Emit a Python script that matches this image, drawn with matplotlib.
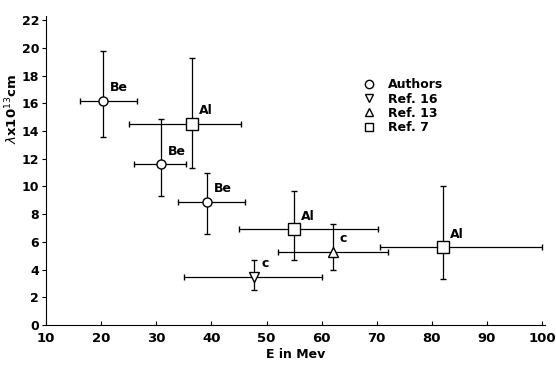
import matplotlib.pyplot as plt
from matplotlib.lines import Line2D

# points: energy (MeV), lambda (1e-13 cm), error ranges
marker = ["o", "o", "o", "s", "s", "^", "v", "s"]
energy = [20.3, 30.8, 39.2, 36.4, 55.0, 62.0, 47.8, 82.0]
lam = [16.2, 11.6, 8.9, 14.5, 6.9, 5.3, 3.5, 5.6]
e_lo = [16.2, 26.0, 34.0, 25.1, 45.0, 52.0, 35.0, 70.5]
e_hi = [26.5, 35.4, 46.0, 45.4, 70.2, 72.0, 60.0, 100.0]
l_lo = [13.6, 9.3, 6.6, 11.3, 4.7, 4.0, 2.5, 3.3]
l_hi = [19.8, 14.9, 11.0, 19.3, 9.7, 7.3, 4.7, 10.0]
tag = ["Be", "Be", "Be", "Al", "Al", "c", "c", "Al"]
msize = [6.5, 6.5, 6.5, 8.5, 8.5, 7.5, 7.5, 9]

legend_labels = ["Authors", "Ref. 16", "Ref. 13", "Ref. 7"]
legend_markers = ["o", "v", "^", "s"]

fig = plt.figure(figsize=(5.56, 3.66), dpi=100)
ax = fig.add_axes([0.083, 0.112, 0.897, 0.844])

for i in range(len(energy)):
    ax.errorbar(energy[i], lam[i],
                xerr=[[energy[i] - e_lo[i]], [e_hi[i] - energy[i]]],
                yerr=[[lam[i] - l_lo[i]], [l_hi[i] - lam[i]]],
                fmt=marker[i], ms=msize[i], mfc="white", mec="black", mew=1.0,
                ecolor="black", elinewidth=0.9, capsize=2.5, capthick=0.9, zorder=3)
    ax.annotate(tag[i], (energy[i], lam[i]), xytext=(5, 7), textcoords="offset points",
                fontsize=9, fontweight="bold")

ax.set_xlim(10, 100.5)
ax.set_ylim(0, 22.3)
ax.set_xticks(range(10, 101, 10))
ax.set_yticks(range(0, 23, 2))
ax.spines["top"].set_visible(False)
ax.spines["right"].set_visible(False)
ax.tick_params(labelsize=9.5, length=3)
ax.tick_params(axis="x", direction="in", pad=5)
ax.tick_params(axis="y", direction="out", labelsize=9, pad=2)
for lab in ax.get_xticklabels() + ax.get_yticklabels():
    lab.set_fontweight("bold")
ax.set_xlabel("E in Mev", fontsize=9, fontweight="bold", labelpad=2)
ax.set_ylabel(r"$\lambda$x10$^{13}$cm", fontsize=9.5, fontweight="bold")
ax.yaxis.set_label_coords(-0.052, 0.70)

handles = [Line2D([], [], ls="none", marker=m, ms=6, mfc="white", mec="black")
           for m in legend_markers]
ax.legend(handles, legend_labels, loc="upper left", bbox_to_anchor=(0.6, 0.835),
          frameon=False, handletextpad=0.5, labelspacing=0.1,
          prop={"weight": "bold", "size": 9})

fig.savefig("out.png", dpi=100)
